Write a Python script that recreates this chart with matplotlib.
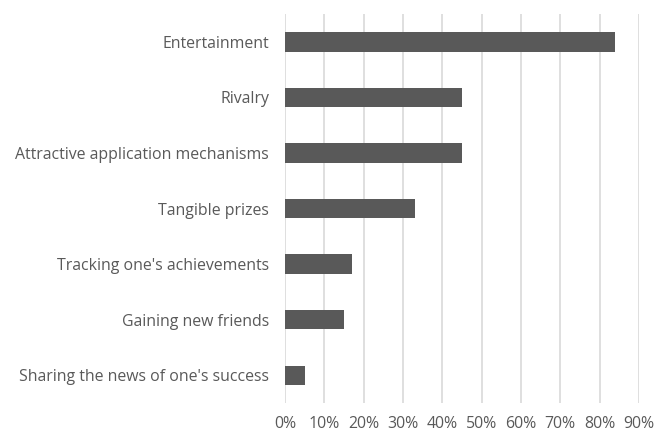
import matplotlib
matplotlib.use("Agg")
import matplotlib.pyplot as plt
from matplotlib.ticker import PercentFormatter

categories = ["Entertainment", "Rivalry", "Attractive application mechanisms",
              "Tangible prizes", "Tracking one's achievements",
              "Gaining new friends", "Sharing the news of one's success"]
values = [84, 45, 45, 33, 17, 15, 5]
xticks = [0, 10, 20, 30, 40, 50, 60, 70, 80, 90]

plt.rcParams['font.family'] = ['Open Sans', 'DejaVu Sans']

fig = plt.figure(figsize=(6.54, 4.34), dpi=100)
ax = fig.add_axes([0.4358, 0.0714, 0.541, 0.8963])

y = list(range(len(categories)))
ax.barh(y, values, height=0.35, color='#595959', zorder=3)

ax.set_ylim(len(categories) - 0.5, -0.5)
ax.set_yticks(y)
ax.set_yticklabels(categories)
ax.set_xlim(0, 90)
ax.set_xticks(xticks)
ax.xaxis.set_major_formatter(PercentFormatter(decimals=0))

ax.grid(axis='x', color='#d9d9d9', linewidth=1.2, zorder=0)
for s in ax.spines.values():
    s.set_visible(False)
ax.tick_params(axis='both', length=0, labelsize=11.4, colors='#595959')
ax.tick_params(axis='y', pad=11.5)
ax.tick_params(axis='x', pad=9)

fig.savefig("out.png", dpi=100)
